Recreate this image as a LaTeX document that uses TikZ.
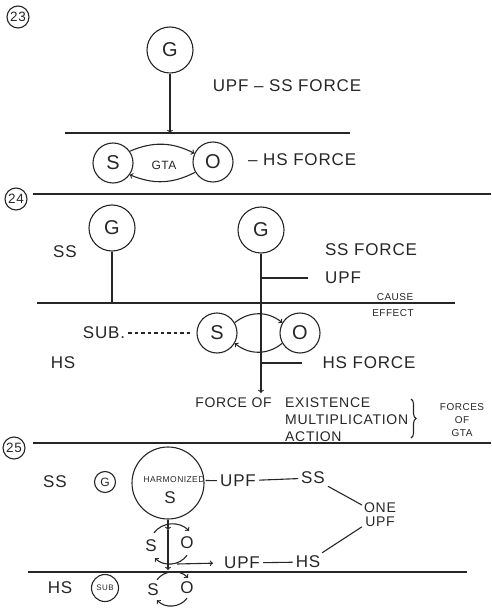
\documentclass[tikz,border=0pt]{standalone}
\usepackage{fontspec}
\setmainfont{Liberation Sans}[LetterSpace=5]
\usetikzlibrary{decorations.pathreplacing}

\begin{document}
\begin{tikzpicture}[x=1pt,y=-1pt,
    ink/.style={draw=black!85,line width=1.1pt},
    sepline/.style={draw=black!85,line width=2.3pt},
    bubble/.style={circle,ink,inner sep=0pt,minimum size=46pt,text=black!85,font=\fontsize{20}{20}\selectfont},
    tag/.style={circle,ink,inner sep=0pt,minimum size=22pt,text=black!85,font=\fontsize{13.5}{13.5}\selectfont},
    lbl/.style={inner sep=3pt,text=black!85,font=\fontsize{17}{17}\selectfont},
    mid/.style={inner sep=2pt,text=black!85,font=\fontsize{14}{17}\selectfont},
    tiny/.style={inner sep=1pt,text=black!85,font=\fontsize{10}{10}\selectfont}]
\useasboundingbox (0,0) rectangle (491,612);

% 23
\node[tag] (t23) at (18,17) {23};
\node[bubble] (g23) at (170,50) {G};
\coordinate (l23a) at (65,133);
\coordinate (l23b) at (350,133);
\draw[ink] (l23a) -- (l23b);
\draw[ink,->] (g23) -- (g23 |- l23a);
\node[lbl] (upf23) at (287,86) {UPF -- SS FORCE};
\node[bubble,minimum size=40pt] (s23) at (113,163) {S};
\node[bubble,minimum size=40pt] (o23) at (213,162) {O};
\node[tiny,font=\fontsize{12}{12}\selectfont] (gta23) at (164,165) {GTA};
\draw[ink,->] (s23.35) to[bend left=25] (o23.155);
\draw[ink,->] (o23.-150) to[bend left=25] (s23.-35);
\node[lbl,anchor=west] (hs23) at (245,160) {-- HS FORCE};
\draw[sepline] (33,194) -- (491,194);

% 24
\node[tag] (t24) at (16,199) {24};
\node[bubble] (g24a) at (112,228) {G};
\node[bubble] (g24b) at (261,230) {G};
\node[lbl] (ss24) at (65,252) {SS};
\node[lbl] (ssf24) at (371,250) {SS FORCE};
\coordinate (l24a) at (37,303);
\coordinate (l24b) at (455,303);
\draw[ink] (l24a) -- (l24b);
\draw[ink] (g24a) -- (g24a |- l24a);
\coordinate (e24) at (261,393);
\draw[ink,->] (g24b) -- (e24);
\coordinate (u24a) at (261,278);
\coordinate (u24b) at (308,278);
\draw[ink] (u24a) -- (u24b);
\node[lbl,anchor=west] (upf24) at (322,278) {UPF};
\node[tiny] (cause) at (395,297) {CAUSE};
\node[tiny] (effect) at (393,313) {EFFECT};
\node[bubble,minimum size=40pt] (s24) at (217,333) {S};
\node[bubble,minimum size=40pt] (o24) at (300,333) {O};
\draw[ink,->] (s24.30) to[bend left=40] (o24.150);
\draw[ink,->] (o24.-150) to[bend left=40] (s24.-30);
\node[lbl] (sub24) at (104,333) {SUB.};
\draw[ink,dash pattern=on 3.5pt off 3pt,shorten >=6pt] (sub24) -- (s24);
\node[lbl] (hs24) at (63,363) {HS};
\coordinate (h24a) at (261,363);
\coordinate (h24b) at (302,363);
\draw[ink] (h24a) -- (h24b);
\node[lbl] (hsf24) at (369,363) {HS FORCE};
\node[mid,anchor=north west,align=left] (foe) at (283,396) {EXISTENCE\\MULTIPLICATION\\ACTION};
\node[mid,anchor=east] (fof) at (274,403) {FORCE OF};
\draw[ink,decorate,decoration={brace,amplitude=5pt}] (411,399) -- (411,438);
\node[tiny,align=center,font=\fontsize{10}{13}\selectfont] (gtaf) at (462,420) {FORCES\\OF\\GTA};
\draw[sepline] (33,443) -- (491,443);

% 25
\node[tag] (t25) at (14,448) {25};
\node[lbl] (ss25a) at (55,482) {SS};
\node[bubble,minimum size=21pt,font=\fontsize{12}{12}\selectfont] (g25) at (105,482) {G};
\node[bubble,minimum size=72pt] (h25) at (168,483) {};
\node[tiny,font=\fontsize{8.5}{8.5}\selectfont] (harm) at (174,480) {HARMONIZED};
\node[lbl] (s25a) at (170,498) {S};
\node[lbl] (upf25a) at (238,481) {UPF};
\node[lbl] (ss25b) at (313,478) {SS};
\draw[ink] (harm) -- (upf25a);
\draw[ink] (upf25a) -- (ss25b);
\node[mid,align=center,font=\fontsize{14}{14}\selectfont] (one25) at (380,515) {ONE\\UPF};
\draw[ink] (ss25b) -- (one25);
\node[lbl] (hs25b) at (308,562) {HS};
\draw[ink] (hs25b) -- (one25);
\node[lbl] (upf25b) at (242,563) {UPF};
\draw[ink] (upf25b) -- (hs25b);
\node[lbl] (s25b) at (151,546) {S};
\node[lbl] (o25b) at (187,543) {O};
\coordinate (v25a) at (168,530);
\coordinate (v25b) at (168,570);
\draw[ink,->] (h25) -- (v25a);
\draw[ink,->] (v25a) -- (v25b);
\draw[ink,->] ([xshift=3pt,yshift=4pt]s25b.north) to[bend left=50] ([xshift=2pt,yshift=3pt]o25b.north);
\draw[ink,->] ([yshift=-3pt]o25b.south) to[bend left=50] ([xshift=4pt,yshift=-3pt]s25b.south);
\coordinate (r25) at (177,564);
\draw[ink,->,shorten >=8pt] (r25) -- (upf25b.west);
\draw[ink] (28,572) -- (467,572);
\node[lbl] (hs25c) at (60,588) {HS};
\node[bubble,minimum size=27pt,font=\fontsize{8}{8}\selectfont] (sub25) at (105,588) {SUB};
\node[lbl] (s25c) at (153,590) {S};
\node[lbl] (o25c) at (187,588) {O};
\draw[ink,->] ([xshift=4pt,yshift=1pt]s25c.north) to[bend left=50] ([xshift=1pt,yshift=1pt]o25c.north);
\draw[ink,->] ([yshift=-1pt]o25c.south) to[bend left=50] ([xshift=4pt,yshift=-1pt]s25c.south);
\end{tikzpicture}
\end{document}
